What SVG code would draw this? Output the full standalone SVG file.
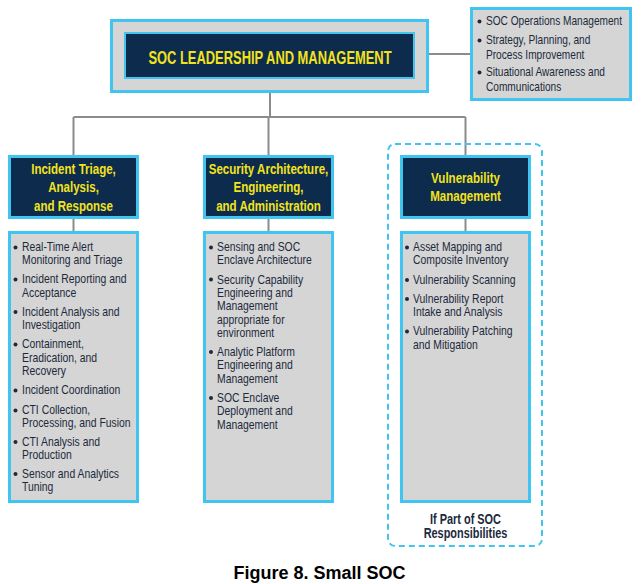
<svg xmlns="http://www.w3.org/2000/svg" width="641" height="584" viewBox="0 0 641 584">
<style>
.box{fill:#d5d5d5;stroke:#40c4f0;stroke-width:3}
.hdr{fill:#0d2b4c;stroke:#40c4f0;stroke-width:3}
.conn{fill:none;stroke:#8c8c8c;stroke-width:2}
.ht{font-family:"Liberation Sans",Arial,sans-serif;font-weight:bold;font-size:15px;fill:#f3e31c;text-anchor:middle}
.li{font-family:"Liberation Sans",Arial,sans-serif;font-size:13px;fill:#1c2a3c}
.li2{font-family:"Liberation Sans",Arial,sans-serif;font-size:12.5px;fill:#1c2a3c}
.dot{fill:#1c2a3c}
</style>
<rect width="641" height="584" fill="#ffffff"/>
<g id="connectors">
<path class="conn" d="M270 92 V117 M73.5 117 H465.5 M73.5 117 V156 M268.5 117 V156 M465.5 117 V156 M73.5 218 V232 M268.5 218 V232 M465.5 218 V232 M428 54 H471"/>
</g>
<g id="soc-leadership">
<rect class="box" x="111.5" y="20.5" width="316" height="71"/>
<rect x="125" y="33" width="289" height="45" fill="#0d2b4c" stroke="#40c4f0" stroke-width="2"/>
<text x="0" y="64.5" transform="translate(270,0) scale(0.68,1)" font-family="'Liberation Sans',Arial,sans-serif" font-weight="bold" font-size="19" fill="#f3e31c" text-anchor="middle">SOC LEADERSHIP AND MANAGEMENT</text>
</g>
<g id="leadership-functions">
<rect class="box" x="471.5" y="8.5" width="159" height="91"/>
<circle class="dot" cx="479.5" cy="21.5" r="2"/>
<circle class="dot" cx="479.5" cy="40.5" r="2"/>
<circle class="dot" cx="479.5" cy="72.5" r="2"/>
<text class="li2" transform="translate(486,0) scale(0.81,1)"><tspan x="0" y="25.5">SOC Operations Management</tspan><tspan x="0" y="44.5">Strategy, Planning, and</tspan><tspan x="0" y="58.8">Process Improvement</tspan><tspan x="0" y="76.5">Situational Awareness and</tspan><tspan x="0" y="90.8">Communications</tspan></text>
</g>
<g id="incident-triage">
<rect class="hdr" x="9.5" y="156.5" width="128" height="61"/>
<text class="ht" transform="translate(73.5,0) scale(0.77,1)"><tspan x="0" y="174.5">Incident Triage,</tspan><tspan x="0" y="192.5">Analysis,</tspan><tspan x="0" y="211">and Response</tspan></text>
</g>
<g id="incident-triage-list">
<rect class="box" x="9.5" y="232.5" width="128" height="269"/>
<circle class="dot" cx="15.5" cy="247.5" r="2"/>
<circle class="dot" cx="15.5" cy="279.5" r="2"/>
<circle class="dot" cx="15.5" cy="312" r="2"/>
<circle class="dot" cx="15.5" cy="344.5" r="2"/>
<circle class="dot" cx="15.5" cy="390.5" r="2"/>
<circle class="dot" cx="15.5" cy="410.5" r="2"/>
<circle class="dot" cx="15.5" cy="442" r="2"/>
<circle class="dot" cx="15.5" cy="474" r="2"/>
<text class="li" transform="translate(22,0) scale(0.8,1)"><tspan x="0" y="251.5">Real-Time Alert</tspan><tspan x="0" y="264.5">Monitoring and Triage</tspan><tspan x="0" y="283.5">Incident Reporting and</tspan><tspan x="0" y="297">Acceptance</tspan><tspan x="0" y="316">Incident Analysis and</tspan><tspan x="0" y="329.5">Investigation</tspan><tspan x="0" y="348.5">Containment,</tspan><tspan x="0" y="362">Eradication, and</tspan><tspan x="0" y="375.5">Recovery</tspan><tspan x="0" y="394.5">Incident Coordination</tspan><tspan x="0" y="414.5">CTI Collection,</tspan><tspan x="0" y="427.5">Processing, and Fusion</tspan><tspan x="0" y="446">CTI Analysis and</tspan><tspan x="0" y="459.5">Production</tspan><tspan x="0" y="478">Sensor and Analytics</tspan><tspan x="0" y="491.5">Tuning</tspan></text>
</g>
<g id="security-architecture">
<rect class="hdr" x="204.5" y="156.5" width="128" height="61"/>
<text class="ht" transform="translate(268.5,0) scale(0.77,1)"><tspan x="0" y="174.5">Security Architecture,</tspan><tspan x="0" y="192.5">Engineering,</tspan><tspan x="0" y="211">and Administration</tspan></text>
</g>
<g id="security-architecture-list">
<rect class="box" x="204.5" y="232.5" width="128" height="269"/>
<circle class="dot" cx="211" cy="247.5" r="2"/>
<circle class="dot" cx="211" cy="279.5" r="2"/>
<circle class="dot" cx="211" cy="352" r="2"/>
<circle class="dot" cx="211" cy="398" r="2"/>
<text class="li" transform="translate(217,0) scale(0.8,1)"><tspan x="0" y="251.5">Sensing and SOC</tspan><tspan x="0" y="264.5">Enclave Architecture</tspan><tspan x="0" y="284">Security Capability</tspan><tspan x="0" y="297.5">Engineering and</tspan><tspan x="0" y="310.5">Management</tspan><tspan x="0" y="324">appropriate for</tspan><tspan x="0" y="337.5">environment</tspan><tspan x="0" y="356.5">Analytic Platform</tspan><tspan x="0" y="369.5">Engineering and</tspan><tspan x="0" y="383">Management</tspan><tspan x="0" y="402">SOC Enclave</tspan><tspan x="0" y="415.5">Deployment and</tspan><tspan x="0" y="429">Management</tspan></text>
</g>
<g id="vulnerability-scope">
<rect x="388" y="144" width="154" height="402" rx="7" fill="none" stroke="#40c4f0" stroke-width="2" stroke-dasharray="6 4"/>
<text font-family="'Liberation Sans',Arial,sans-serif" font-weight="bold" font-size="14" fill="#1c2a3c" text-anchor="middle" transform="translate(465.5,0) scale(0.78,1)"><tspan x="0" y="524">If Part of SOC</tspan><tspan x="0" y="538.5">Responsibilities</tspan></text>
</g>
<g id="vulnerability-management">
<rect class="hdr" x="401.5" y="156.5" width="128" height="61"/>
<text class="ht" transform="translate(465.5,0) scale(0.77,1)"><tspan x="0" y="183.5">Vulnerability</tspan><tspan x="0" y="201.5">Management</tspan></text>
</g>
<g id="vulnerability-management-list">
<rect class="box" x="401.5" y="232.5" width="128" height="269"/>
<circle class="dot" cx="407" cy="247.5" r="2"/>
<circle class="dot" cx="407" cy="280" r="2"/>
<circle class="dot" cx="407" cy="299" r="2"/>
<circle class="dot" cx="407" cy="331.5" r="2"/>
<text class="li" transform="translate(413,0) scale(0.8,1)"><tspan x="0" y="251.5">Asset Mapping and</tspan><tspan x="0" y="264.5">Composite Inventory</tspan><tspan x="0" y="284">Vulnerability Scanning</tspan><tspan x="0" y="303">Vulnerability Report</tspan><tspan x="0" y="316.5">Intake and Analysis</tspan><tspan x="0" y="335.5">Vulnerability Patching</tspan><tspan x="0" y="349">and Mitigation</tspan></text>
</g>
<text x="319.5" y="578.5" font-family="'Liberation Sans',Arial,sans-serif" font-weight="bold" font-size="18" fill="#000000" text-anchor="middle">Figure 8. Small SOC</text>
</svg>
